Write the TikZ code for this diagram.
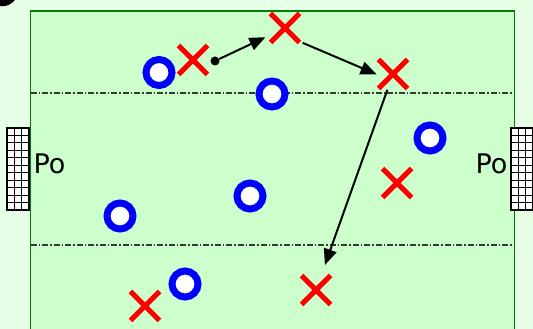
\documentclass[tikz,border=0pt]{standalone}
\usepackage{fontspec}
\setmainfont{DejaVu Sans}
\usetikzlibrary{arrows.meta,shapes.misc}
\definecolor{fieldgreen}{RGB}{204,255,204}
\definecolor{outergreen}{RGB}{230,255,230}
\definecolor{linegreen}{RGB}{0,128,0}
\definecolor{midline}{RGB}{50,60,50}
\begin{document}
\begin{tikzpicture}[x=1pt, y=1pt,
    player/.style={circle, draw=blue, line width=7pt, fill=white, minimum size=26pt, inner sep=0pt},
    opponent/.style={cross out, draw=red, line width=5pt, minimum size=24pt, inner sep=0pt},
    pass/.style={-{Triangle[length=16pt, width=13pt]}, line width=2pt},
    zone/.style={midline, line width=1.3pt, dash pattern=on 6pt off 2pt on 1.5pt off 2pt},
    goalnet/.style={draw=black, fill=white, line width=1.5pt},
    polabel/.style={font=\fontsize{27}{30}\selectfont, inner sep=0pt}]
    \useasboundingbox (0,0) rectangle (533,329);
    \clip (0,0) rectangle (533,329);

    % --- background and field ---
    \fill[outergreen] (0,0) rectangle (533,329);
    \fill[black] (2,339) circle (16.3);
    \filldraw[fill=fieldgreen, draw=linegreen, line width=1.5pt] (30.5,-5) rectangle (514.5,318);
    \draw[zone] (30.5,236) -- (514.5,236);
    \draw[zone] (30.5,84) -- (514.5,84);

    % --- goals ---
    \draw[goalnet] (7,119) rectangle (29,201);
    \draw[black, line width=1.1pt, shift={(7,119)}, xstep=7.333, ystep=7.4545] (0,0) grid (22,82);
    \draw[goalnet] (511,119) rectangle (533,201);
    \draw[black, line width=1.1pt, shift={(511,119)}, xstep=7.333, ystep=7.4545] (0,0) grid (22,82);
    \node[polabel] (poleft) at (49.5,165.5) {Po};
    \node[polabel] (poright) at (491.5,165.5) {Po};

    % --- players ---
    \node[player] (o1) at (159,256.5) {};
    \node[player] (o2) at (272,235) {};
    \node[player] (o3) at (430,191) {};
    \node[player] (o4) at (250,133) {};
    \node[player] (o5) at (120,113) {};
    \node[player] (o6) at (185,45) {};

    % --- opponents ---
    \node[opponent] (x1) at (193,269) {};
    \node[opponent] (x2) at (285,301) {};
    \node[opponent] (x3) at (393,255) {};
    \node[opponent] (x4) at (397,146) {};
    \node[opponent] (x5) at (316,39) {};
    \node[opponent] (x6) at (145,23) {};

    % --- passes ---
    \node[circle, fill=black, inner sep=0pt, minimum size=9pt] (ball) at (215,268) {};
    \draw[pass, shorten >=21.6pt] (ball) -- (x2.center);
    \draw[pass, shorten <=22pt, shorten >=15pt] ([shift={(-2.6,-6.2)}]x2.center) -- ([shift={(-2.6,-6.2)}]x3.center);
    \draw[pass, shorten <=16.8pt, shorten >=26.5pt] (x3.center) -- (x5.center);
\end{tikzpicture}
\end{document}
